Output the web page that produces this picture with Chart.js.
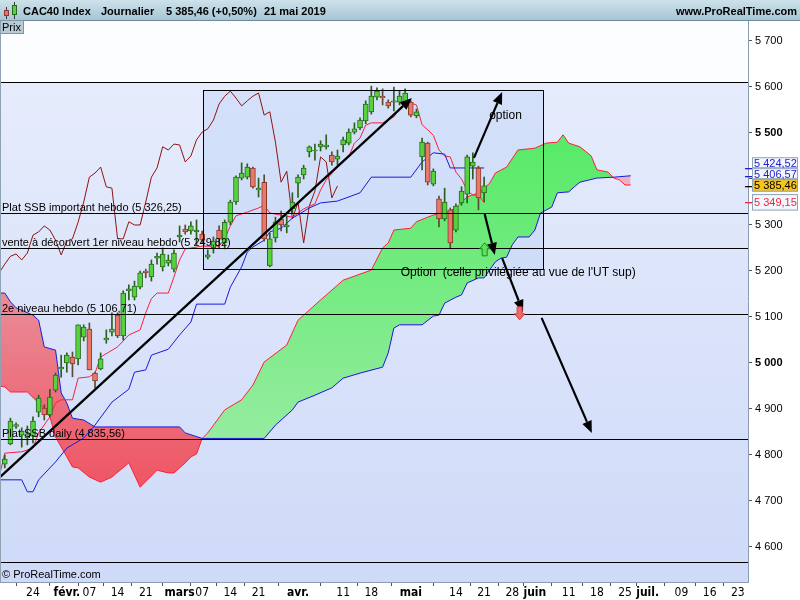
<!DOCTYPE html>
<html>
<head>
<meta charset="utf-8">
<script src="https://cdn.jsdelivr.net/npm/chart.js@4.4.1/dist/chart.umd.min.js"></script>
<style>
  html, body { margin: 0; padding: 0; background: #fff; }
  canvas { display: block; }
</style>
</head>
<body>
<canvas id="c" width="800" height="600"></canvas>
<script>
// CAC40 daily, trading-day index 0 = 24 janv. 2019, last candle = 21 mai (80)
const firstDay = -5;
const opens  = [4780,4824,4862,4843,4837,4841,4893,4902,4887,4941,4987,5000,5013,5009,5056,5074,4978,4987,5050,5067,5104,5059,5157,5143,5165,5200,5187,5228,5209,5217,5204,5274,5291,5287,5285,5280,5230,5250,5289,5261,5306,5350,5402,5404,5424,5376,5393,5211,5272,5313,5296,5335,5391,5409,5459,5461,5470,5470,5452,5443,5474,5478,5502,5511,5526,5546,5578,5580,5567,5567,5567,5567,5567,5537,5448,5478,5389,5357,5313,5333,5289,5348,5367,5428,5424,5370];
const highs  = [4800,4880,4870,4859,4863,4883,4930,4909,4943,4978,5017,5022,5024,5083,5083,5087,4980,5022,5072,5109,5109,5157,5170,5178,5200,5204,5224,5239,5250,5235,5246,5298,5300,5307,5311,5287,5246,5274,5298,5311,5354,5407,5435,5433,5426,5402,5409,5283,5317,5330,5320,5370,5409,5430,5472,5476,5483,5496,5459,5463,5491,5509,5522,5533,5570,5602,5598,5596,5572,5600,5591,5596,5570,5552,5489,5480,5422,5363,5380,5337,5346,5383,5452,5457,5428,5404];
const lows   = [4772,4822,4858,4817,4822,4826,4883,4876,4883,4937,4969,4980,4970,4996,5048,4985,4946,4985,5043,5059,5055,5050,5137,5137,5161,5185,5178,5215,5200,5211,5198,5263,5280,5280,5257,5261,5226,5239,5250,5248,5300,5345,5398,5400,5380,5361,5265,5209,5263,5287,5283,5326,5360,5400,5448,5441,5461,5465,5430,5430,5459,5474,5498,5507,5520,5541,5572,5561,5554,5548,5561,5561,5535,5533,5420,5387,5385,5296,5309,5250,5285,5343,5348,5400,5333,5350];
const closes = [4791,4874,4866,4852,4846,4874,4924,4887,4926,4974,4991,5017,4998,5083,5078,4985,4961,5009,5054,5074,5059,5152,5161,5167,5196,5196,5215,5232,5237,5224,5239,5278,5285,5298,5289,5267,5235,5265,5270,5306,5350,5404,5413,5426,5383,5380,5270,5270,5307,5300,5300,5350,5404,5424,5470,5463,5476,5474,5437,5450,5485,5502,5509,5528,5563,5580,5591,5576,5559,5570,5580,5587,5539,5546,5480,5393,5417,5313,5350,5261,5341,5374,5448,5437,5359,5385];
const chikouShift = 26;

// Ichimoku lines, [day, value] at the vertices
const tenkan = [[-6,4752],[-5,4804],[-2,4807],[0,4815],[1,4848],[3,4883],[4,4913],[5,4920],[7,4920],[8,4967],[10,4970],[11,4978],[12,5013],[15,5035],[17,5061],[19,5072],[20,5109],[21,5140],[22,5152],[24,5152],[25,5187],[26,5224],[27,5248],[28,5250],[30,5254],[33,5254],[34,5270],[35,5298],[36,5320],[38,5328],[40,5337],[41,5343],[42,5326],[46,5317],[48,5335],[50,5346],[51,5376],[52,5398],[54,5426],[56,5448],[57,5478],[58,5489],[59,5517],[60,5522],[62,5522],[64,5535],[65,5554],[66,5565],[67,5565],[68,5561],[69,5518],[70,5507],[71,5495],[72,5463],[73,5450],[74,5448],[75,5415],[76,5400],[77,5375],[78,5365],[79,5365],[80,5349]];
const kijun = [[-6,4746],[-2,4746],[-1,4720],[0,4720],[1,4746],[4,4785],[6,4815],[9,4837],[11,4865],[14,4915],[17,4943],[18,4980],[20,4985],[21,5017],[24,5030],[26,5061],[28,5089],[29,5128],[34,5128],[35,5165],[37,5209],[38,5241],[39,5252],[41,5267],[42,5285],[44,5293],[46,5315],[47,5322],[49,5337],[51,5348],[54,5352],[58,5370],[60,5404],[67,5404],[69,5437],[71,5457],[73,5454],[74,5424],[80,5424]];
const spanA = [[-6,4950],[-5,4948],[-4,4937],[-1,4937],[1,4913],[3,4883],[4,4839],[6,4796],[7,4774],[8,4772],[10,4752],[12,4741],[14,4752],[17,4783],[19,4730],[22,4767],[24,4761],[25,4761],[27,4783],[28,4796],[29,4802],[30,4836],[31,4848],[34,4898],[37,4920],[39,4952],[41,5002],[45,5039],[47,5093],[51,5137],[55,5180],[60,5202],[62,5250],[63,5261],[64,5289],[67,5293],[68,5307],[70,5317],[72,5326],[73,5326],[75,5337],[76,5350],[77,5361],[79,5370],[80,5380],[81,5391],[82,5413],[84,5426],[86,5463],[89,5467],[91,5478],[93,5480],[94,5496],[95,5478],[97,5470],[99,5450],[100,5420],[102,5415],[103,5402],[104,5398],[105,5387],[106,5387]];
const spanB = [[-6,5152],[-5,5152],[-4,5133],[-3,5120],[0,5104],[1,5093],[2,5035],[4,5028],[5,4935],[6,4913],[7,4880],[9,4876],[11,4861],[26,4861],[27,4848],[30,4836],[41,4836],[43,4865],[46,4898],[47,4915],[50,4930],[53,4946],[55,4967],[58,4978],[62,4991],[63,5022],[64,5076],[65,5083],[69,5083],[71,5102],[72,5104],[73,5130],[75,5143],[76,5148],[77,5174],[79,5185],[80,5185],[82,5220],[83,5228],[84,5230],[85,5257],[86,5274],[88,5274],[89,5289],[90,5326],[92,5339],[93,5370],[95,5372],[96,5383],[97,5393],[100,5402],[103,5404],[106,5407]];

// axes
const tickDays   = [0,6,10,15,20,26,30,35,40,47,55,60,67,75,80,85,89,95,100,105,109,115,120,125];
const tickLabels = ['24','févr.','07','14','21','mars','07','14','21','avr.','11','18','mai','14','21','28','juin','11','18','25','juil.','09','16','23'];
const monthTicks = ['févr.','mars','avr.','mai','juin','juil.'];
const priceTicks = [4600,4700,4800,4900,5000,5100,5200,5300,5400,5500,5600,5700];

// drawn levels and notes
const levelValues = [5611, 5326.25, 5249.82, 5106.71, 4835.56, 4567];
const levelTexts  = ['', 'Plat SSB important hebdo (5 326,25)', 'vente à découvert 1er niveau hebdo (5 249,82)', '2e niveau hebdo (5 106,71)', 'Plat SSB daily (4 835,56)', ''];
const arrows = [[-5.85,4752,67.2,5576],[78.2,5446,83.2,5589],[80.1,5324,81.9,5235],[83.2,5228,86.9,5111],[90.2,5098,99.1,4848]];
const boxRange = [30.15, 5594, 90.4, 5204];
const notes = [['option', 80.9, 5530], ['Option  (celle privilégiée au vue de l\'UT sup)', 65.2, 5190]];
const upMark = [80.1, 5246];
const downMark = [86.3, 5109];
const lastValues = [5424.52, 5406.57, 5385.46, 5349.15];
const lastColors = ['#1c1cd0', '#1c1cd0', '#000000', '#ff1f3f'];
const header = [['CAC40 Index', 23], ['Journalier', 101], ['5 385,46 (+0,50%)', 166], ['21 mai 2019', 264]];

const FONT = '"Liberation Sans", Arial, sans-serif';
const NARROW = '"Liberation Sans Narrow", "DejaVu Sans Condensed", Arial, sans-serif';

const frNum = (v, dec) => {
  const [a, b] = v.toFixed(dec).split('.');
  const s = a.replace(/\B(?=(\d{3})+(?!\d))/g, ' ');
  return b ? s + ',' + b : s;
};

const canvas = document.getElementById('c');
const c2 = canvas.getContext('2d');
const greenFill = c2.createLinearGradient(0, 140, 0, 445);
greenFill.addColorStop(0, 'rgb(88,234,104)');
greenFill.addColorStop(1, 'rgb(150,236,160)');
const redFill = c2.createLinearGradient(0, 170, 0, 490);
redFill.addColorStop(0, '#eab6c4');
redFill.addColorStop(0.39, '#e98c98');
redFill.addColorStop(1, '#ef5462');

const bull = closes.map((c, k) => c >= opens[k]);
const pts = arr => arr.map(([d, v]) => ({ x: d, y: v }));

function arrowTo(ctx, x1, y1, x2, y2) {
  const ang = Math.atan2(y2 - y1, x2 - x1);
  const L = 12, W = 5;
  const bx = x2 - L * Math.cos(ang), by = y2 - L * Math.sin(ang);
  ctx.beginPath();
  ctx.moveTo(x1, y1);
  ctx.lineTo(bx, by);
  ctx.stroke();
  ctx.beginPath();
  ctx.moveTo(x2, y2);
  ctx.lineTo(bx + W * Math.sin(ang), by - W * Math.cos(ang));
  ctx.lineTo(bx - W * Math.sin(ang), by + W * Math.cos(ang));
  ctx.closePath();
  ctx.fill();
}

const deco = {
  id: 'deco',
  beforeDraw(chart) {
    const { ctx, chartArea: a, scales: { x, y } } = chart;
    ctx.save();
    ctx.fillStyle = '#ffffff';
    ctx.fillRect(0, 0, 800, 600);
    const yTop = y.getPixelForValue(levelValues[0]);
    const g = ctx.createLinearGradient(0, yTop, 0, a.bottom);
    g.addColorStop(0, '#e6ecfc');
    g.addColorStop(1, '#cedaf8');
    ctx.fillStyle = g;
    ctx.fillRect(a.left, yTop, a.right - a.left, a.bottom - yTop);
    ctx.fillStyle = '#fcfdff';
    ctx.fillRect(a.left, a.top, a.right - a.left, yTop - a.top);
    // frame fill
    const rx1 = x.getPixelForValue(boxRange[0]), ry1 = y.getPixelForValue(boxRange[1]);
    const rx2 = x.getPixelForValue(boxRange[2]), ry2 = y.getPixelForValue(boxRange[3]);
    ctx.fillStyle = 'rgba(165,195,245,0.27)';
    ctx.fillRect(rx1, ry1, rx2 - rx1, ry2 - ry1);
    ctx.restore();
  },
  afterDatasetsDraw(chart) {
    const { ctx, chartArea: a, scales: { x, y } } = chart;
    ctx.save();
    ctx.beginPath();
    ctx.rect(a.left, a.top, a.right - a.left, a.bottom - a.top);
    ctx.clip();
    // horizontal levels
    ctx.strokeStyle = '#000';
    ctx.lineWidth = 1;
    ctx.font = '11px ' + FONT;
    ctx.fillStyle = '#000';
    ctx.textBaseline = 'alphabetic';
    levelValues.forEach((v, k) => {
      const py = Math.round(y.getPixelForValue(v)) + 0.5;
      ctx.beginPath();
      ctx.moveTo(a.left, py);
      ctx.lineTo(a.right, py);
      ctx.stroke();
      if (levelTexts[k]) ctx.fillText(levelTexts[k], 2, py - 3);
    });
    // frame
    const rx1 = Math.round(x.getPixelForValue(boxRange[0])) + 0.5, ry1 = Math.round(y.getPixelForValue(boxRange[1])) + 0.5;
    const rx2 = Math.round(x.getPixelForValue(boxRange[2])) + 0.5, ry2 = Math.round(y.getPixelForValue(boxRange[3])) + 0.5;
    ctx.strokeRect(rx1, ry1, rx2 - rx1, ry2 - ry1);
    // notes
    ctx.font = '12px ' + FONT;
    notes.forEach(([t, d, v]) => ctx.fillText(t, x.getPixelForValue(d), y.getPixelForValue(v)));
    // arrows
    ctx.lineWidth = 2.2;
    ctx.strokeStyle = '#000';
    ctx.fillStyle = '#000';
    arrows.forEach(([d1, v1, d2, v2]) => arrowTo(ctx, x.getPixelForValue(d1), y.getPixelForValue(v1), x.getPixelForValue(d2), y.getPixelForValue(v2)));
    // signal marks
    const ux = x.getPixelForValue(upMark[0]), uy = y.getPixelForValue(upMark[1]);
    ctx.beginPath();
    ctx.moveTo(ux, uy - 7); ctx.lineTo(ux + 5, uy - 1); ctx.lineTo(ux + 2.5, uy - 1); ctx.lineTo(ux + 2.5, uy + 6);
    ctx.lineTo(ux - 2.5, uy + 6); ctx.lineTo(ux - 2.5, uy - 1); ctx.lineTo(ux - 5, uy - 1); ctx.closePath();
    ctx.fillStyle = '#5fe05f'; ctx.fill();
    ctx.lineWidth = 1; ctx.strokeStyle = '#1f8a1f'; ctx.stroke();
    const dx = x.getPixelForValue(downMark[0]), dy = y.getPixelForValue(downMark[1]);
    ctx.beginPath();
    ctx.moveTo(dx, dy + 7); ctx.lineTo(dx + 5, dy + 1); ctx.lineTo(dx + 2.5, dy + 1); ctx.lineTo(dx + 2.5, dy - 6);
    ctx.lineTo(dx - 2.5, dy - 6); ctx.lineTo(dx - 2.5, dy + 1); ctx.lineTo(dx - 5, dy + 1); ctx.closePath();
    ctx.fillStyle = '#f06a6a'; ctx.fill();
    ctx.strokeStyle = '#d83a3a'; ctx.stroke();
    ctx.restore();
  },
  afterDraw(chart) {
    const { ctx, chartArea: a, scales: { y } } = chart;
    ctx.save();
    // header bar
    const hg = ctx.createLinearGradient(0, 0, 0, 20);
    hg.addColorStop(0, '#cde2ea');
    hg.addColorStop(1, '#a6c5d3');
    ctx.fillStyle = hg;
    ctx.fillRect(0, 0, 800, 20);
    ctx.fillStyle = '#6f8a9c';
    ctx.fillRect(0, 20, 800, 1);
    // icon
    ctx.fillStyle = '#3a3a3a';
    ctx.fillRect(6, 7, 1, 12);
    ctx.fillRect(14, 2, 1, 17);
    ctx.fillStyle = '#e8706a'; ctx.fillRect(4, 10, 5, 6);
    ctx.strokeStyle = '#8a3a30'; ctx.lineWidth = 1; ctx.strokeRect(4.5, 10.5, 4, 5);
    ctx.fillStyle = '#55d040'; ctx.fillRect(12, 5, 5, 10);
    ctx.strokeStyle = '#2a6a1e'; ctx.strokeRect(12.5, 5.5, 4, 9);
    ctx.fillStyle = '#000';
    ctx.font = 'bold 11px ' + FONT;
    ctx.textBaseline = 'alphabetic';
    header.forEach(([t, hx]) => ctx.fillText(t, hx, 15));
    ctx.textAlign = 'right';
    ctx.fillText('www.ProRealTime.com', 797, 15);
    ctx.textAlign = 'left';
    // Prix tab
    ctx.fillStyle = '#b7cbd7';
    ctx.fillRect(0, 21, 24, 13);
    ctx.strokeStyle = '#7d95a7';
    ctx.strokeRect(0.5, 20.5, 23, 13);
    ctx.fillStyle = '#000';
    ctx.font = '11px ' + FONT;
    ctx.fillText('Prix', 2, 31);
    // left frame edge
    ctx.fillStyle = '#8ea2b4';
    ctx.fillRect(0, 21, 1, a.bottom - 21);
    // copyright
    ctx.fillStyle = '#000';
    ctx.font = '11px ' + FONT;
    ctx.fillText('© ProRealTime.com', 2, 578);
    // last value boxes on the price axis
    const offs = [-10.5, -7.8, -6.5, -8.3];
    const hts = [11, 11, 12.5, 16.5];
    ctx.font = '11px ' + FONT;
    lastValues.forEach((v, k) => {
      const py = y.getPixelForValue(v);
      ctx.fillStyle = lastColors[k];
      ctx.fillRect(745, Math.round(py), 7, 1.3);
      const top = py + offs[k];
      ctx.fillStyle = k === 2 ? '#f7c41c' : '#f3f6fb';
      ctx.fillRect(752, top, 46, hts[k]);
      ctx.strokeStyle = '#8fa3b8';
      ctx.lineWidth = 1;
      ctx.strokeRect(752.5, top + 0.5, 45, hts[k] - 1);
      ctx.fillStyle = lastColors[k];
      ctx.textBaseline = 'middle';
      ctx.fillText(frNum(v, 2), 754, top + hts[k] / 2 + 1);
    });
    ctx.restore();
  }
};

const chart = new Chart(canvas, {
  type: 'line',
  data: {
    datasets: [
      { label: 'SSA', data: pts(spanA), borderColor: '#ff1f3c', borderWidth: 1, pointRadius: 0, tension: 0,
        fill: { target: 1, above: greenFill, below: redFill }, order: 10 },
      { label: 'SSB', data: pts(spanB), borderColor: '#1a1ad8', borderWidth: 1, pointRadius: 0, tension: 0, fill: false, order: 9 },
      { label: 'Chikou', data: closes.map((c, k) => ({ x: firstDay + k - chikouShift, y: c })), borderColor: '#8e1414', borderWidth: 1,
        pointRadius: 0, tension: 0, fill: false, order: 8 },
      { label: 'Tenkan', data: pts(tenkan), borderColor: '#ff1f3c', borderWidth: 1, pointRadius: 0, tension: 0, fill: false, order: 7 },
      { label: 'Kijun', data: pts(kijun), borderColor: '#1a1ad8', borderWidth: 1, pointRadius: 0, tension: 0, fill: false, order: 6 },
      { type: 'bar', label: 'wicks', data: opens.map((o, k) => ({ x: firstDay + k, y: [lows[k], highs[k]] })),
        backgroundColor: bull.map(b => b ? '#2b5e1c' : '#5a4a30'), borderWidth: 0, barThickness: 1, grouped: false, order: 2 },
      { type: 'bar', label: 'bodies', data: opens.map((o, k) => ({ x: firstDay + k, y: [o, closes[k]] })),
        backgroundColor: bull.map(b => b ? '#55d23e' : '#e8786a'), borderColor: bull.map(b => b ? '#2b6a1e' : '#8a3a2a'),
        borderWidth: 1, borderSkipped: false, barThickness: 5, grouped: false, order: 1 }
    ]
  },
  options: {
    responsive: false,
    animation: false,
    events: [],
    layout: { padding: { top: 20, left: 0, right: 0, bottom: 0 } },
    plugins: { legend: { display: false }, tooltip: { enabled: false } },
    scales: {
      x: {
        type: 'linear', position: 'bottom', min: -5.85, max: 126.8, offset: false,
        grid: { drawOnChartArea: false, tickLength: 4, color: '#555' },
        border: { color: '#8a9cb0' },
        afterBuildTicks: s => { s.ticks = tickDays.map(v => ({ value: v })); },
        afterFit: s => { s.height = 18; },
        ticks: {
          autoSkip: false, maxRotation: 0, padding: 0, color: '#000',
          callback: (v, i) => tickLabels[i],
          font: c => ({ family: NARROW, size: 12, weight: monthTicks.includes(tickLabels[c.index]) ? 'bold' : 'normal' })
        }
      },
      y: {
        type: 'linear', position: 'right', min: 4523.9, max: 5745.65,
        grid: { drawOnChartArea: false, tickLength: 4, color: '#555' },
        border: { color: '#8a9cb0' },
        afterBuildTicks: s => { s.ticks = priceTicks.map(v => ({ value: v })); },
        afterFit: s => { s.width = 52; },
        ticks: {
          padding: 3, color: '#000',
          callback: v => frNum(v, 0),
          font: c => ({ family: FONT, size: 11, weight: c.tick && c.tick.value % 500 === 0 ? 'bold' : 'normal' })
        }
      }
    }
  },
  plugins: [deco]
});
</script>
</body>
</html>
